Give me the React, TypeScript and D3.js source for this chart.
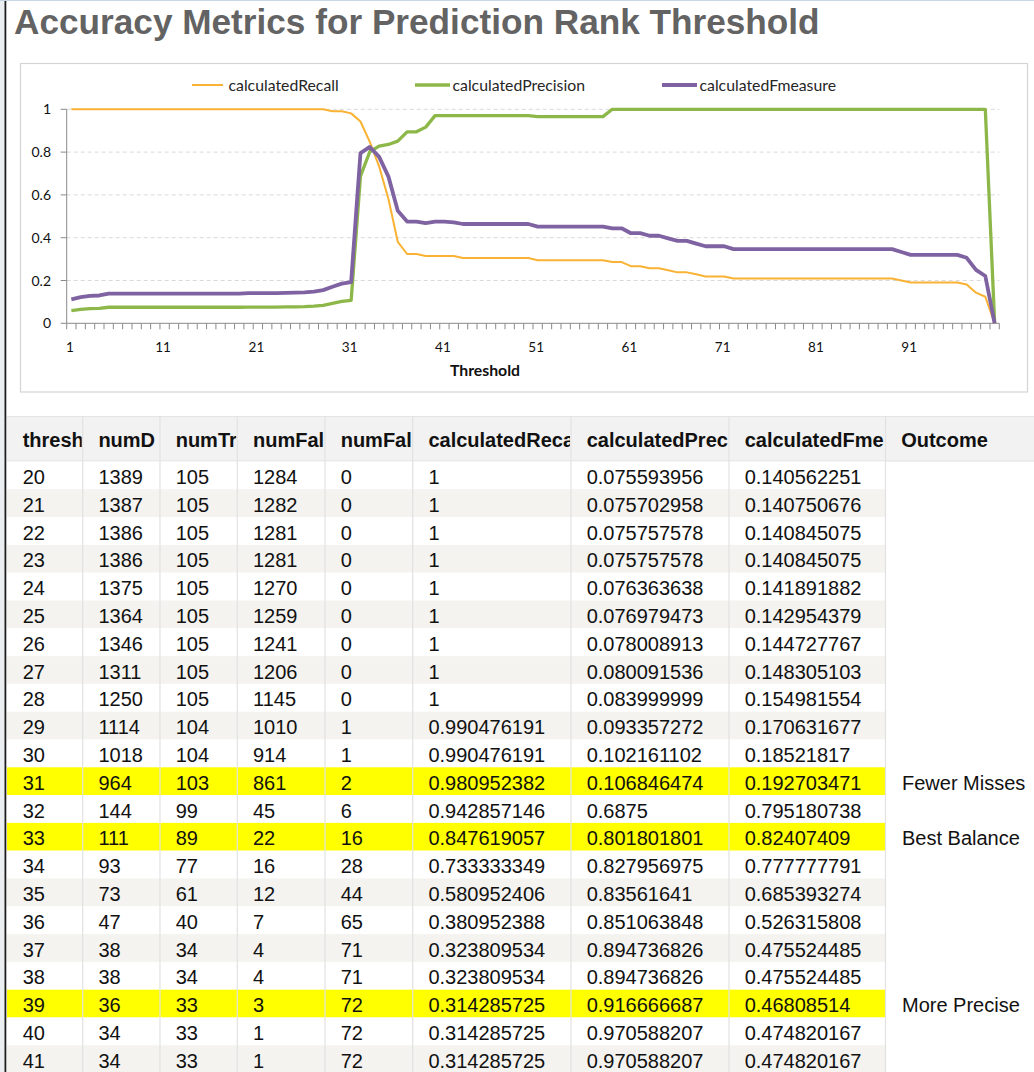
import React from "react";
import * as d3 from "d3";

// ---------- chart data (threshold 1..100) ----------
const thresholds: number[] = d3.range(1, 101);

const recallValues: number[] = [
  1, 1, 1, 1, 1, 1, 1, 1, 1, 1,
  1, 1, 1, 1, 1, 1, 1, 1, 1, 1,
  1, 1, 1, 1, 1, 1, 1, 1, 0.990476191, 0.990476191,
  0.980952382, 0.942857146, 0.847619057, 0.733333349, 0.580952406, 0.380952388, 0.323809534, 0.323809534, 0.314285725, 0.314285725,
  0.314285725, 0.314, 0.305, 0.305, 0.305, 0.305, 0.305, 0.305, 0.305, 0.305,
  0.295, 0.295, 0.295, 0.295, 0.295, 0.295, 0.295, 0.295, 0.286, 0.286,
  0.267, 0.267, 0.257, 0.257, 0.248, 0.238, 0.238, 0.229, 0.219, 0.219,
  0.219, 0.2095, 0.2095, 0.2095, 0.2095, 0.2095, 0.2095, 0.2095, 0.2095, 0.2095,
  0.2095, 0.2095, 0.2095, 0.2095, 0.2095, 0.2095, 0.2095, 0.2095, 0.2095, 0.2,
  0.1905, 0.1905, 0.1905, 0.1905, 0.1905, 0.1905, 0.181, 0.143, 0.124, 0,
];

const precisionValues: number[] = [
  0.059, 0.065, 0.069, 0.07, 0.075, 0.075, 0.075, 0.075, 0.075, 0.075,
  0.075, 0.075, 0.075, 0.075, 0.075, 0.075, 0.075, 0.075, 0.075, 0.075593956,
  0.075702958, 0.075757578, 0.075757578, 0.076363638, 0.076979473, 0.078008913, 0.080091536, 0.083999999, 0.093357272, 0.102161102,
  0.106846474, 0.6875, 0.801801801, 0.827956975, 0.83561641, 0.851063848, 0.894736826, 0.894736826, 0.916666687, 0.970588207,
  0.970588207, 0.97, 0.97, 0.97, 0.97, 0.97, 0.97, 0.97, 0.97, 0.97,
  0.966, 0.966, 0.966, 0.966, 0.966, 0.966, 0.966, 0.966, 1, 1,
  1, 1, 1, 1, 1, 1, 1, 1, 1, 1,
  1, 1, 1, 1, 1, 1, 1, 1, 1, 1,
  1, 1, 1, 1, 1, 1, 1, 1, 1, 1,
  1, 1, 1, 1, 1, 1, 1, 1, 1, 0,
];

const fmeasureValues: number[] = [
  0.112, 0.122, 0.128, 0.13, 0.139, 0.139, 0.139, 0.139, 0.139, 0.139,
  0.139, 0.139, 0.139, 0.139, 0.139, 0.139, 0.139, 0.139, 0.139, 0.140562251,
  0.140750676, 0.140845075, 0.140845075, 0.141891882, 0.142954379, 0.144727767, 0.148305103, 0.154981554, 0.170631677, 0.18521817,
  0.192703471, 0.795180738, 0.82407409, 0.777777791, 0.685393274, 0.526315808, 0.475524485, 0.475524485, 0.46808514, 0.474820167,
  0.474820167, 0.472, 0.464, 0.464, 0.464, 0.464, 0.464, 0.464, 0.464, 0.464,
  0.452, 0.452, 0.452, 0.452, 0.452, 0.452, 0.452, 0.452, 0.444, 0.444,
  0.421, 0.421, 0.409, 0.409, 0.397, 0.385, 0.385, 0.372, 0.36, 0.36,
  0.36, 0.3465, 0.3465, 0.3465, 0.3465, 0.3465, 0.3465, 0.3465, 0.3465, 0.3465,
  0.3465, 0.3465, 0.3465, 0.3465, 0.3465, 0.3465, 0.3465, 0.3465, 0.3465, 0.333,
  0.32, 0.32, 0.32, 0.32, 0.32, 0.32, 0.306, 0.25, 0.221, 0,
];

const seriesNames = ["calculatedRecall", "calculatedPrecision", "calculatedFmeasure"];
const yTickValues = [0, 0.2, 0.4, 0.6, 0.8, 1];
const xLabelValues = [1, 11, 21, 31, 41, 51, 61, 71, 81, 91];

// ---------- table data ----------
const tableHeaders = [
  "thresh", "numD", "numTr", "numFal", "numFal",
  "calculatedReca", "calculatedPrec", "calculatedFme", "Outcome",
];
const tThreshold = ["20","21","22","23","24","25","26","27","28","29","30","31","32","33","34","35","36","37","38","39","40","41"];
const tNumDetected = ["1389","1387","1386","1386","1375","1364","1346","1311","1250","1114","1018","964","144","111","93","73","47","38","38","36","34","34"];
const tNumTrue = ["105","105","105","105","105","105","105","105","105","104","104","103","99","89","77","61","40","34","34","33","33","33"];
const tNumFalsePos = ["1284","1282","1281","1281","1270","1259","1241","1206","1145","1010","914","861","45","22","16","12","7","4","4","3","1","1"];
const tNumFalseNeg = ["0","0","0","0","0","0","0","0","0","1","1","2","6","16","28","44","65","71","71","72","72","72"];
const tRecall = ["1","1","1","1","1","1","1","1","1","0.990476191","0.990476191","0.980952382","0.942857146","0.847619057","0.733333349","0.580952406","0.380952388","0.323809534","0.323809534","0.314285725","0.314285725","0.314285725"];
const tPrecision = ["0.075593956","0.075702958","0.075757578","0.075757578","0.076363638","0.076979473","0.078008913","0.080091536","0.083999999","0.093357272","0.102161102","0.106846474","0.6875","0.801801801","0.827956975","0.83561641","0.851063848","0.894736826","0.894736826","0.916666687","0.970588207","0.970588207"];
const tFmeasure = ["0.140562251","0.140750676","0.140845075","0.140845075","0.141891882","0.142954379","0.144727767","0.148305103","0.154981554","0.170631677","0.18521817","0.192703471","0.795180738","0.82407409","0.777777791","0.685393274","0.526315808","0.475524485","0.475524485","0.46808514","0.474820167","0.474820167"];
const tOutcome = ["","","","","","","","","","","","Fewer Misses","","Best Balance","","","","","","More Precise","",""];

const W = 1034;
const H = 1072;
const COLORS = ["#f9b233", "#8db849", "#7f62a1"];
const WIDTHS = [2, 3.3, 3.8];
const chartFont = "Lato, 'Open Sans', sans-serif";
const tableFont = "'Liberation Sans', Arial, sans-serif";

export default function App() {
  const x = d3.scaleBand<number>().domain(thresholds).range([66.7, 999.3]).padding(0);
  const bw = x.bandwidth();
  const y = d3.scaleLinear().domain([0, 1]).range([323.3, 109.3]);
  const cx = (t: number) => (x(t) as number) + bw / 2;

  const series = [recallValues, precisionValues, fmeasureValues];
  const line = (vals: number[]) =>
    d3.line<number>().x((_, i) => cx(thresholds[i])).y((d) => y(d))(vals) || "";

  const legendItems = [
    { x1: 192, x2: 223, tx: 228.5 },
    { x1: 415, x2: 450, tx: 452.5 },
    { x1: 662, x2: 697, tx: 699.5 },
  ];

  // table layout
  const colEdges = [7, 82.7, 160, 237.3, 325, 412.7, 571, 729, 885.5, 1034];
  const headerTop = 416;
  const headerBottom = 461;
  const rowH = 27.8;
  const rowScale = d3.scaleLinear().domain([0, 1]).range([461.5, 461.5 + rowH]);
  const columns = [tThreshold, tNumDetected, tNumTrue, tNumFalsePos, tNumFalseNeg, tRecall, tPrecision, tFmeasure];

  const boundaries = d3.range(0, thresholds.length + 1).map((i) => 66.7 + i * bw);

  return (
    <svg width={W} height={H} style={{ position: "absolute", left: 0, top: 0, background: "#fff" }}>
      <defs>
        {tableHeaders.map((_, c) => (
          <clipPath id={`hc${c}`} key={c}>
            <rect x={colEdges[c]} y={headerTop} width={colEdges[c + 1] - colEdges[c] - 1} height={headerBottom - headerTop} />
          </clipPath>
        ))}
      </defs>
      <rect x={0} y={0} width={W} height={H} fill="#fff" />
      {/* page edge */}
      <rect x={0} y={0} width={4.5} height={H} fill="#eceff2" />
      <rect x={4.5} y={0} width={1.8} height={H} fill="#1d1d1d" />
      <line x1={0} x2={W} y1={0.5} y2={0.5} stroke="#c9d6e3" />

      {/* title */}
      <text x={14} y={34} fontFamily={tableFont} fontWeight="bold" fontSize={35.2} fill="#636363">
        Accuracy Metrics for Prediction Rank Threshold
      </text>

      {/* chart frame */}
      <rect x={20.5} y={63.5} width={1007} height={328.5} fill="#fff" stroke="#d4d4d4" strokeWidth={1.2} />

      {/* legend */}
      {seriesNames.map((name, i) => (
        <g key={name}>
          <line x1={legendItems[i].x1} x2={legendItems[i].x2} y1={85} y2={85} stroke={COLORS[i]} strokeWidth={WIDTHS[i]} />
          <text x={legendItems[i].tx} y={90.5} fontFamily={chartFont} fontSize={15.8} fill="#262626">
            {name}
          </text>
        </g>
      ))}

      {/* gridlines */}
      {yTickValues.filter((v) => v > 0).map((v) => (
        <line key={v} x1={66.7} x2={999.3} y1={y(v)} y2={y(v)} stroke="#d9d9d9" strokeDasharray="4,3" strokeWidth={1} />
      ))}

      {/* y axis */}
      <line x1={66.7} x2={66.7} y1={y(1)} y2={y(0)} stroke="#8a8a8a" />
      {yTickValues.map((v) => (
        <g key={v}>
          <line x1={60.7} x2={66.7} y1={y(v)} y2={y(v)} stroke="#8a8a8a" />
          <text x={51} y={y(v) + 5} textAnchor="end" fontFamily={chartFont} fontSize={14} fill="#111">
            {String(v)}
          </text>
        </g>
      ))}

      {/* x axis */}
      <line x1={66.7} x2={999.3} y1={y(0)} y2={y(0)} stroke="#8a8a8a" />
      {boundaries.map((bx, i) => (
        <line key={i} x1={bx} x2={bx} y1={y(0)} y2={y(0) + 6} stroke="#8a8a8a" />
      ))}
      {xLabelValues.map((t) => (
        <text key={t} x={cx(t) - 1.5} y={351.5} textAnchor="middle" fontFamily={chartFont} fontSize={13.5} fill="#111">
          {t}
        </text>
      ))}
      <text x={485} y={376} textAnchor="middle" fontFamily={chartFont} fontWeight="bold" fontSize={15.8} fill="#111">
        Threshold
      </text>

      {/* series */}
      {series.map((vals, i) => (
        <path key={i} d={line(vals)} fill="none" stroke={COLORS[i]} strokeWidth={WIDTHS[i]} strokeLinejoin="round" />
      ))}

      {/* table header */}
      <rect x={7} y={headerTop} width={W - 7} height={headerBottom - headerTop} fill="#f2f2f2" />
      <line x1={7} x2={W} y1={headerTop + 0.5} y2={headerTop + 0.5} stroke="#e4e4e4" />
      <line x1={7} x2={W} y1={headerBottom} y2={headerBottom} stroke="#e0e0e0" />
      {tableHeaders.map((h, c) => (
        <text
          key={h + c}
          clipPath={`url(#hc${c})`}
          x={colEdges[c] + 15.7}
          y={447}
          fontFamily={tableFont}
          fontWeight="bold"
          fontSize={20}
          fill="#111"
        >
          {h}
        </text>
      ))}

      {/* table rows */}
      {tThreshold.map((_, r) => {
        const top = rowScale(r);
        const highlighted = tOutcome[r] !== "";
        const fill = highlighted ? "#ffff00" : r % 2 === 1 ? "#f4f3f0" : "#ffffff";
        return <rect key={r} x={7} y={top} width={colEdges[8] - 7} height={rowH} fill={fill} />;
      })}
      {colEdges.slice(1, 9).map((e, i) => (
        <line key={i} x1={e} x2={e} y1={headerTop} y2={H} stroke="#e2e2e2" strokeWidth={1.2} />
      ))}
      {tThreshold.map((_, r) => {
        const base = rowScale(r) + 22.5;
        return (
          <g key={r}>
            {columns.map((col, c) => (
              <text key={c} x={colEdges[c] + 15.7} y={base} fontFamily={tableFont} fontSize={20} fill="#111">
                {col[r]}
              </text>
            ))}
            {tOutcome[r] && (
              <text x={colEdges[8] + 16.5} y={base} fontFamily={tableFont} fontSize={20} fill="#111">
                {tOutcome[r]}
              </text>
            )}
          </g>
        );
      })}
    </svg>
  );
}
